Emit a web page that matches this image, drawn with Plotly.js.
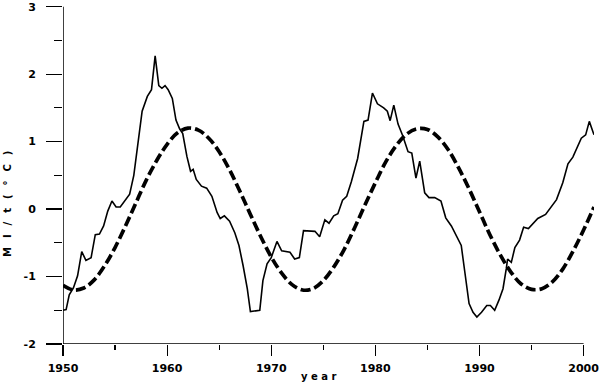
<!DOCTYPE html>
<html>
<head>
<meta charset="utf-8">
<script src="https://cdn.plot.ly/plotly-3.0.1.min.js"></script>
<style>
  html, body { margin: 0; padding: 0; background: #fff; }
  #chart { width: 600px; height: 384px; }
</style>
</head>
<body>
<div id="chart"></div>
<script>
// serie observada (linha cheia)
const anosObs = [
  1950.0, 1950.3, 1950.6, 1951.0, 1951.4, 1951.8, 1952.2, 1952.7, 1953.1, 1953.5,
  1953.9, 1954.3, 1954.7, 1955.1, 1955.5, 1955.9, 1956.4, 1956.8, 1957.2, 1957.6,
  1958.1, 1958.5, 1958.85, 1959.2, 1959.5, 1959.8, 1960.1, 1960.5, 1960.85, 1961.2,
  1961.5, 1961.9, 1962.25, 1962.5, 1962.8, 1963.3, 1963.8, 1964.3, 1964.8, 1965.1,
  1965.5, 1966.0, 1966.5, 1966.9, 1967.3, 1967.7, 1968.0, 1968.9, 1969.2, 1969.6,
  1970.0, 1970.55, 1971.0, 1971.8, 1972.25, 1972.7, 1973.1, 1974.2, 1974.65, 1975.15,
  1975.55, 1976.0, 1976.4, 1976.85, 1977.25, 1977.7, 1978.3, 1978.9, 1979.3, 1979.72,
  1980.2, 1980.8, 1981.15, 1981.42, 1981.77, 1982.18, 1982.62, 1983.14, 1983.5, 1983.9,
  1984.26, 1984.74, 1985.15, 1985.7, 1986.3, 1986.76, 1987.3, 1987.8, 1988.25, 1988.6,
  1989.0, 1989.38, 1989.75, 1990.2, 1990.7, 1991.05, 1991.46, 1991.87, 1992.26, 1992.58,
  1992.7, 1993.06, 1993.4, 1993.85, 1994.24, 1994.7, 1995.15, 1995.6, 1996.35, 1996.9,
  1997.4, 1998.0, 1998.5, 1998.97, 1999.4, 1999.78, 2000.2, 2000.55, 2001.0
];
const valoresObs = [
  -1.50, -1.49, -1.27, -1.17, -0.99, -0.63, -0.76, -0.72, -0.38, -0.37,
  -0.25, -0.03, 0.12, 0.03, 0.03, 0.12, 0.22, 0.50, 1.02, 1.45,
  1.67, 1.77, 2.27, 1.83, 1.79, 1.83, 1.77, 1.64, 1.32, 1.19,
  1.12, 0.78, 0.56, 0.59, 0.44, 0.34, 0.31, 0.19, -0.05, -0.14,
  -0.10, -0.18, -0.35, -0.54, -0.84, -1.18, -1.52, -1.50, -1.06, -0.81,
  -0.72, -0.48, -0.62, -0.64, -0.74, -0.72, -0.32, -0.33, -0.41, -0.16,
  -0.21, -0.10, -0.07, 0.13, 0.19, 0.41, 0.75, 1.30, 1.32, 1.72,
  1.56, 1.50, 1.45, 1.31, 1.54, 1.26, 1.09, 0.85, 0.83, 0.46,
  0.71, 0.24, 0.17, 0.17, 0.12, -0.13, -0.25, -0.40, -0.54, -0.94,
  -1.40, -1.53, -1.60, -1.53, -1.43, -1.43, -1.50, -1.35, -1.18, -0.88,
  -0.74, -0.79, -0.57, -0.46, -0.27, -0.29, -0.21, -0.14, -0.08, 0.04,
  0.14, 0.39, 0.67, 0.77, 0.92, 1.05, 1.10, 1.30, 1.10
];

// curva ajustada (tracejada)
const anosAjuste = [
  1950, 1951, 1952, 1953, 1954, 1955, 1956, 1957, 1958, 1959,
  1960, 1961, 1962, 1963, 1964, 1965, 1966, 1967, 1968, 1969,
  1970, 1971, 1972, 1973, 1974, 1975, 1976, 1977, 1978, 1979,
  1980, 1981, 1982, 1983, 1984, 1985, 1986, 1987, 1988, 1989,
  1990, 1991, 1992, 1993, 1994, 1995, 1996, 1997, 1998, 1999,
  2000, 2001
];
const valoresAjuste = [
  -1.13, -1.20, -1.17, -1.05, -0.84, -0.57, -0.25, 0.09, 0.43, 0.72,
  0.96, 1.13, 1.20, 1.17, 1.05, 0.85, 0.58, 0.26, -0.08, -0.41,
  -0.71, -0.95, -1.12, -1.20, -1.18, -1.06, -0.86, -0.60, -0.28, 0.06,
  0.39, 0.70, 0.94, 1.11, 1.19, 1.18, 1.07, 0.88, 0.61, 0.30,
  -0.04, -0.38, -0.68, -0.93, -1.11, -1.19, -1.18, -1.08, -0.89, -0.62,
  -0.31, 0.03
];

const ticksX = [1950, 1960, 1970, 1980, 1990, 2000];
const ticksY = [-2, -1, 0, 1, 2, 3];

const fonteEixo = {family: "DejaVu Sans", size: 11, color: "#000", weight: "bold"};

// espacos largos entre as letras do titulo do eixo y
const esp = "\u00a0\u00a0\u2009";
const tituloY = ["M", "I", "/", "t", "(", "°", "C", ")"].join(esp);

const dados = [
  {x: anosObs, y: valoresObs, type: "scatter", mode: "lines",
   line: {color: "#000", width: 1.6}, hoverinfo: "skip"},
  {x: anosAjuste, y: valoresAjuste, type: "scatter", mode: "lines",
   line: {color: "#000", width: 3.7, dash: "10px,4px", shape: "spline"}, hoverinfo: "skip"}
];

const layout = {
  width: 600, height: 384,
  margin: {l: 63, r: 6, t: 6, b: 40},
  paper_bgcolor: "#fff", plot_bgcolor: "#fff",
  showlegend: false,
  xaxis: {
    range: [1950, 2001], tickvals: ticksX, ticktext: ticksX.map(String),
    showgrid: false, zeroline: false, showline: false,
    ticks: "outside", ticklen: 11, tickwidth: 1.2, tickcolor: "#000",
    minor: {dtick: 5, tick0: 1950, ticks: "outside", ticklen: 5, tickwidth: 1.2, tickcolor: "#000", showgrid: false},
    tickfont: fonteEixo, ticklabelstandoff: 3
  },
  yaxis: {
    range: [-2, 3.01], tickvals: ticksY, ticktext: ticksY.map(String),
    showgrid: false, zeroline: false, showline: false,
    ticks: "outside", ticklen: 16, tickwidth: 1.2, tickcolor: "#000",
    minor: {dtick: 0.5, tick0: 0, ticks: "outside", ticklen: 8, tickwidth: 1.2, tickcolor: "#000", showgrid: false},
    tickfont: fonteEixo, ticklabelstandoff: 8, ticklabeloverflow: "allow"
  },
  // linhas dos eixos so ate 2000, como no original
  shapes: [
    {type: "line", xref: "x", yref: "y", x0: 1950, x1: 2000, y0: -2, y1: -2, line: {color: "#000", width: 1.5}},
    {type: "line", xref: "x", yref: "y", x0: 1950, x1: 1950, y0: -2, y1: 3, line: {color: "#000", width: 1.5}}
  ],
  annotations: [
    {text: "y e a r", xref: "x", yref: "paper", x: 1974.5, y: -0.097,
     xanchor: "center", yanchor: "middle", showarrow: false,
     font: {family: "DejaVu Sans", size: 10, color: "#000", weight: "bold"}},
    {text: tituloY, xref: "paper", yref: "paper", x: -0.105, y: 0.415,
     xanchor: "center", yanchor: "middle", showarrow: false, textangle: -90,
     font: {family: "DejaVu Sans", size: 10, color: "#000", weight: "bold"}}
  ]
};

Plotly.newPlot("chart", dados, layout, {staticPlot: true});
</script>
</body>
</html>
